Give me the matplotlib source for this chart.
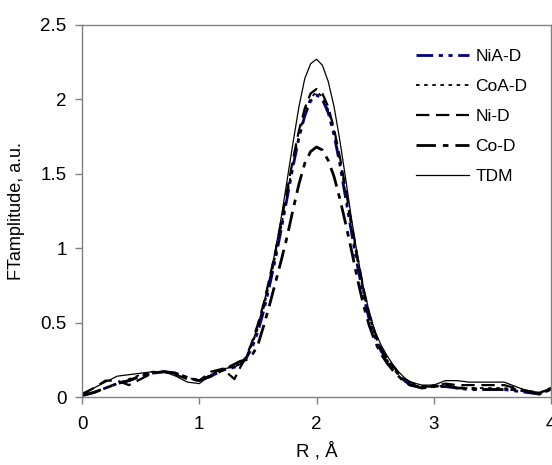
import matplotlib
matplotlib.use("Agg")
import matplotlib.pyplot as plt
import numpy as np

plt.rcParams['font.family'] = ['Liberation Sans', 'DejaVu Sans']

R = [0.0, 0.1, 0.2, 0.3, 0.4, 0.5, 0.6, 0.7, 0.8, 0.9, 1.0, 1.1, 1.2, 1.3,
     1.35, 1.40, 1.45, 1.50, 1.55, 1.60, 1.65, 1.70, 1.75, 1.80, 1.85, 1.90, 1.95,
     2.00, 2.05, 2.10, 2.15, 2.20, 2.25, 2.30, 2.35, 2.40, 2.45, 2.50, 2.55, 2.60,
     2.65, 2.70, 2.75,
     2.8, 2.9, 3.0, 3.1, 3.2, 3.3, 3.4, 3.5, 3.6, 3.7, 3.8, 3.9, 4.0]

nia_d = [0.01, 0.03, 0.06, 0.09, 0.11, 0.14, 0.16, 0.17, 0.16, 0.13, 0.11, 0.14, 0.18, 0.20,
         0.22, 0.26, 0.33, 0.44, 0.58, 0.75, 0.93, 1.13, 1.34, 1.55, 1.74, 1.89, 1.99,
         2.03, 2.00, 1.91, 1.76, 1.56, 1.33, 1.10, 0.88, 0.68, 0.52, 0.40, 0.31, 0.25,
         0.20, 0.15, 0.11,
         0.08, 0.07, 0.07, 0.07, 0.06, 0.05, 0.05, 0.05, 0.05, 0.04, 0.03, 0.02, 0.05]

coa_d = [0.01, 0.03, 0.06, 0.09, 0.12, 0.15, 0.17, 0.17, 0.16, 0.13, 0.11, 0.15, 0.19, 0.21,
         0.22, 0.27, 0.35, 0.46, 0.60, 0.77, 0.95, 1.15, 1.36, 1.57, 1.76, 1.91, 2.01,
         2.05, 2.02, 1.93, 1.78, 1.58, 1.36, 1.13, 0.91, 0.70, 0.54, 0.41, 0.32, 0.25,
         0.20, 0.15, 0.11,
         0.08, 0.07, 0.08, 0.07, 0.06, 0.06, 0.06, 0.06, 0.06, 0.05, 0.03, 0.03, 0.05]

ni_d = [0.02, 0.06, 0.11, 0.11, 0.08, 0.12, 0.16, 0.17, 0.15, 0.12, 0.11, 0.17, 0.19, 0.12,
        0.20, 0.27, 0.37, 0.49, 0.63, 0.80, 0.98, 1.18, 1.39, 1.60, 1.79, 1.94, 2.04,
        2.07, 2.04, 1.95, 1.80, 1.61, 1.39, 1.16, 0.94, 0.73, 0.56, 0.43, 0.33, 0.26,
        0.21, 0.16, 0.12,
        0.10, 0.07, 0.07, 0.09, 0.08, 0.08, 0.08, 0.08, 0.08, 0.06, 0.04, 0.03, 0.05]

co_d = [0.01, 0.03, 0.06, 0.09, 0.11, 0.14, 0.16, 0.17, 0.16, 0.13, 0.11, 0.14, 0.18, 0.22,
        0.24, 0.25, 0.28, 0.35, 0.48, 0.62, 0.77, 0.92, 1.08, 1.26, 1.43, 1.57, 1.65,
        1.68, 1.66, 1.59, 1.48, 1.33, 1.16, 0.98, 0.79, 0.62, 0.48, 0.37, 0.29, 0.23,
        0.18, 0.14, 0.10,
        0.08, 0.06, 0.07, 0.08, 0.06, 0.06, 0.05, 0.05, 0.05, 0.05, 0.04, 0.02, 0.06]

tdm = [0.01, 0.06, 0.10, 0.14, 0.15, 0.16, 0.17, 0.17, 0.14, 0.10, 0.09, 0.15, 0.19, 0.20,
       0.22, 0.27, 0.36, 0.48, 0.63, 0.80, 0.99, 1.21, 1.46, 1.71, 1.95, 2.14, 2.24,
       2.27, 2.23, 2.12, 1.95, 1.72, 1.46, 1.19, 0.95, 0.74, 0.57, 0.44, 0.35, 0.28,
       0.22, 0.17, 0.13,
       0.10, 0.08, 0.08, 0.11, 0.11, 0.10, 0.10, 0.10, 0.10, 0.07, 0.04, 0.03, 0.06]

x_ticks = [0, 1, 2, 3, 4]
y_ticks = [0, 0.5, 1, 1.5, 2, 2.5]
y_tick_labels = ['0', '0.5', '1', '1.5', '2', '2.5']

fig = plt.figure(figsize=(5.52, 4.65), dpi=100)
ax = fig.add_axes([82/552, 1 - 397/465, 469/552, 372/465])

ax.plot(R, nia_d, color='#000080', lw=2.0, dashes=(6, 2, 1.5, 2, 1.5, 2), label='NiA-D')
ax.plot(R, coa_d, color='black', lw=1.3, dashes=(2, 2.5), label='CoA-D')
ax.plot(R, ni_d, color='black', lw=1.6, dashes=(6, 3), label='Ni-D')
ax.plot(R, co_d, color='black', lw=2.0, dashes=(7, 2.5, 2, 2.5), label='Co-D')
ax.plot(R, tdm, color='black', lw=0.9, label='TDM')

ax.set_xlim(0, 4)
ax.set_ylim(0, 2.5)
ax.set_xticks(x_ticks)
ax.set_xticklabels([str(v) for v in x_ticks])
ax.set_yticks(y_ticks)
ax.set_yticklabels(y_tick_labels)

for s in ax.spines.values():
    s.set_color('#808080')
    s.set_linewidth(1.0)
ax.tick_params(direction='out', length=5, width=1.0, color='#808080',
               labelsize=13.5, labelcolor='black')
ax.tick_params(axis='y', pad=6)
ax.tick_params(axis='x', pad=9)

ax.set_xlabel('R , Å', fontsize=13.5, labelpad=6)
ax.set_ylabel('FTamplitude, a.u.', fontsize=13, labelpad=11)

leg = ax.legend(loc='upper left', bbox_to_anchor=(0.713, 0.936), frameon=False,
                fontsize=12.5, handlelength=3.05, handletextpad=0.35,
                labelspacing=0.85, borderaxespad=0, borderpad=0)

fig.savefig('out.png', dpi=100)
